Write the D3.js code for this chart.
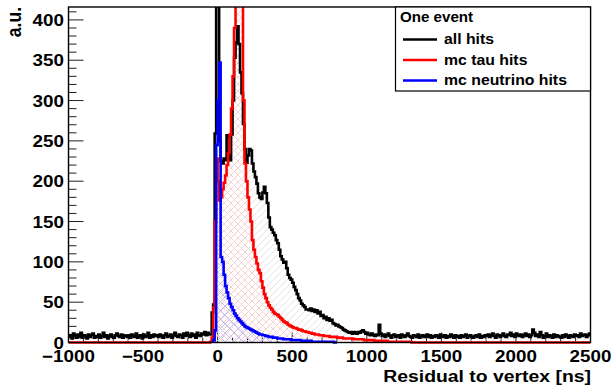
<!DOCTYPE html>
<html>
<head>
<meta charset="utf-8">
<script src="https://cdn.jsdelivr.net/npm/d3@7"></script>
<style>
    body { margin: 0; background: #fff; }
    svg { display: block; font-family: "Liberation Sans", Arial, sans-serif; font-weight: bold; }
</style>
</head>
<body>
<svg id="chart"></svg>
<script>
// histogram binning (ns)
const xMin = -1000, xMax = 2500, binWidth = 10;
const yMax = 416;

// all hits, bins -1000 .. -10
const allHitsBefore = [
    7, 9, 5, 11, 8, 6, 10, 7, 12, 6, 9, 8, 5, 10, 7, 9, 11, 6, 8, 7,
    10, 6, 8, 12, 7, 9, 5, 8, 10, 7, 6, 9, 11, 8, 7, 10, 6, 9, 8, 7,
    9, 6, 10, 8, 7, 11, 6, 8, 9, 5, 10, 7, 8, 12, 6, 9, 7, 10, 8, 9,
    7, 10, 8, 6, 9, 11, 7, 8, 10, 6, 9, 12, 8, 7, 10, 9, 6, 11, 8, 12,
    9, 7, 11, 8, 10, 6, 12, 9, 8, 11, 10, 13, 9, 12, 10, 10, 37, 47, 259, 480
];
// all hits, bins 0 .. 1090
const allHitsPeak = [
    470, 250, 225, 222, 228, 226, 257, 255, 226, 258,
    300, 353, 372, 392, 370, 335, 309, 271, 240, 223,
    232, 240, 238, 222, 212, 205, 197, 185, 180, 178,
    186, 193, 185, 173, 155, 143, 140, 136, 133, 127,
    123, 115, 107, 103, 99, 100, 92, 84, 80, 78,
    74, 69, 65, 60, 55, 52, 48, 46, 44, 41,
    41, 40, 42, 39, 41, 38, 40, 36, 38, 33,
    34, 30, 32, 28, 30, 27, 28, 24, 23, 21,
    22, 20, 19, 18, 16, 15, 14, 13, 12, 13,
    11, 13, 12, 11, 13, 12, 14, 15, 13, 11,
    12, 10, 9, 11, 9, 8, 10, 9, 22, 11
];
// all hits, bins 1100 .. 2490
const allHitsAfter = [
    8, 10, 7, 9, 11, 8, 6, 9, 10, 7, 8, 9, 6, 10, 8, 7, 9, 11, 8, 7,
    6, 9, 8, 7, 10, 6, 8, 9, 7, 8, 10, 7, 9, 6, 8, 7, 9, 8, 6, 10,
    8, 7, 9, 6, 8, 7, 10, 8, 6, 9, 7, 8, 6, 9, 7, 8, 10, 6, 8, 9,
    7, 6, 8, 9, 7, 10, 6, 8, 7, 9, 8, 10, 7, 9, 11, 8, 6, 10, 9, 7,
    9, 11, 8, 7, 10, 9, 12, 8, 10, 7, 11, 9, 8, 10, 7, 9, 11, 8, 10, 7,
    9, 16, 12, 8, 10, 7, 13, 9, 6, 8, 11, 7, 9, 8, 6, 10, 7, 9, 8, 7,
    6, 9, 7, 10, 8, 6, 9, 8, 7, 10, 8, 9, 7, 11, 8, 9, 10, 7, 9, 11
];

// mc tau hits, first bin at -60 ns, zero elsewhere
const tauStart = -60;
const tauHits = [
    0, 1, 6, 43, 150, 228,
    200, 176, 180, 190, 198, 207, 220, 235, 258, 290,
    330, 390, 470, 560, 600, 540, 450, 300, 222, 200,
    180, 165, 150, 127, 115, 106, 98, 90, 86, 76,
    68, 60, 55, 50, 46, 43, 41, 38, 36, 35,
    34, 32, 30, 28, 26, 25, 24, 22, 21, 20,
    19, 18, 18, 17, 16, 16, 15, 14, 14, 13,
    13, 12, 12, 11, 11, 10, 10, 10, 9, 9,
    9, 8, 8, 8, 8, 7, 7, 7, 7, 7,
    6, 6, 6, 6, 5, 5, 5, 5, 5, 5,
    5, 4, 4, 4, 4, 4, 4, 4, 3, 3,
    3, 3, 3, 3, 3, 2, 2, 2, 2, 2,
    2, 2, 2, 2, 1, 1, 1, 1, 1, 1,
    1, 1, 1, 1, 1, 1, 1, 1, 1, 1
];

// mc neutrino hits, first bin at -40 ns
const nuStart = -40;
const nuHits = [
    1, 3, 15, 245,
    300, 347, 106, 100, 84, 70, 62, 55, 48, 44,
    40, 36, 33, 30, 28, 26, 24, 22, 20, 19,
    18, 17, 16, 15, 14, 13, 12, 11, 10, 10,
    9, 9, 8, 8, 7, 7, 7, 6, 6, 6,
    5, 5, 5, 5, 4, 4, 4, 4, 4, 3,
    3, 3, 3, 3, 3, 3, 2, 2, 2, 2,
    2, 2, 2, 1, 1, 1, 1, 1, 1, 1,
    1, 1, 1, 1, 1, 1, 1, 1, 0, 0
];

const xTicks = [-1000, -500, 0, 500, 1000, 1500, 2000, 2500];
const yTicks = [0, 50, 100, 150, 200, 250, 300, 350, 400];
const legendHeader = "One event";
const legendEntries = ["all hits", "mc tau hits", "mc neutrino hits"];

const width = 615, height = 386;
const frame = { left: 68.5, right: 590.5, top: 7, bottom: 342.5 };
const stretch = 1.14; // text in the picture is a bit wide

const svg = d3.select('#chart')
    .attr('width', width)
    .attr('height', height);

const xscale = d3.scaleLinear().domain([xMin, xMax]).range([frame.left, frame.right]);
const yscale = d3.scaleLinear().domain([0, yMax]).range([frame.bottom, frame.top]);

// pad a partial histogram with zero bins so it spans the full axis
const nBins = (xMax - xMin) / binWidth;
function padBins(values, start) {
    const out = new Array(nBins).fill(0);
    const offset = (start - xMin) / binWidth;
    values.forEach((v, i) => { out[offset + i] = v; });
    return out;
}

function histPoints(values, start) {
    const pts = values.map((v, i) => [start + i * binWidth, v]);
    pts.push([start + values.length * binWidth, values[values.length - 1]]);
    return pts;
}

const line = d3.line()
    .x(d => xscale(d[0]))
    .y(d => yscale(d[1]))
    .curve(d3.curveStepAfter);
const area = d3.area()
    .x(d => xscale(d[0]))
    .y0(yscale(0))
    .y1(d => yscale(d[1]))
    .curve(d3.curveStepAfter);

// hatch patterns
const defs = svg.append('defs');
function hatch(id, size, color, cross) {
    const p = defs.append('pattern')
        .attr('id', id)
        .attr('patternUnits', 'userSpaceOnUse')
        .attr('width', size)
        .attr('height', size);
    let d = `M-1,1 L1,-1 M0,${size} L${size},0 M${size - 1},${size + 1} L${size + 1},${size - 1}`;
    if (cross) d += ` M0,0 L${size},${size} M-1,${size - 1} L1,${size + 1} M${size - 1},-1 L${size + 1},1`;
    p.append('path')
        .attr('d', d)
        .attr('stroke', color)
        .attr('stroke-width', 0.8)
        .attr('fill', 'none');
}
hatch('hatch-all', 7, '#dcdcdc', false);
hatch('hatch-tau', 7, '#f8cccc', true);
hatch('hatch-nu', 9, '#b4b4f4', true);

defs.append('clipPath').attr('id', 'frame-clip')
    .append('rect')
    .attr('x', frame.left)
    .attr('y', frame.top)
    .attr('width', frame.right - frame.left)
    .attr('height', frame.bottom - frame.top + 2);

// axes
const axes = svg.append('g');
const xMinor = d3.range(xMin, xMax + 1, 100);
const yMinor = d3.range(0, yMax, 10);

axes.selectAll('.xtick')
    .data(xMinor)
    .join('line')
    .attr('x1', d => xscale(d)).attr('x2', d => xscale(d))
    .attr('y1', frame.bottom)
    .attr('y2', d => frame.bottom - (d % 500 === 0 ? 10 : 5))
    .attr('stroke', '#222').attr('stroke-width', 1);

axes.selectAll('.ytick')
    .data(yMinor)
    .join('line')
    .attr('x1', frame.left)
    .attr('x2', d => frame.left + (d % 50 === 0 ? 15 : 8))
    .attr('y1', d => yscale(d)).attr('y2', d => yscale(d))
    .attr('stroke', '#222').attr('stroke-width', 1);

axes.selectAll('.xlabel')
    .data(xTicks)
    .join('text')
    .attr('transform', d => `translate(${xscale(d)}, 362) scale(${stretch}, 1)`)
    .attr('text-anchor', 'middle')
    .attr('font-size', 16.5)
    .text(d => d < 0 ? '\u2212' + Math.abs(d) : d);

axes.selectAll('.ylabel')
    .data(yTicks)
    .join('text')
    .attr('transform', d => `translate(64, ${yscale(d) + 6}) scale(${stretch}, 1)`)
    .attr('text-anchor', 'end')
    .attr('font-size', 16.5)
    .text(d => d);

axes.append('text')
    .attr('transform', `translate(591, 381.5) scale(${stretch}, 1)`)
    .attr('text-anchor', 'end')
    .attr('font-size', 17)
    .text('Residual to vertex [ns]');

axes.append('text')
    .attr('transform', `translate(20.5, 7) scale(${stretch}, 1) rotate(-90)`)
    .attr('text-anchor', 'end')
    .attr('font-size', 17.5)
    .text('a.u.');

// histograms
const plot = svg.append('g').attr('clip-path', 'url(#frame-clip)');
const allHits = allHitsBefore.concat(allHitsPeak, allHitsAfter);
const series = [
    { values: allHits, start: xMin, color: '#000000', fill: 'url(#hatch-all)' },
    { values: padBins(tauHits, tauStart), start: xMin, color: '#ff0000', fill: 'url(#hatch-tau)' },
    { values: nuHits, start: nuStart, color: '#0000ff', fill: 'url(#hatch-nu)' }
];

series.forEach(s => {
    const pts = histPoints(s.values, s.start);
    plot.append('path')
        .attr('d', area(pts))
        .attr('fill', s.fill)
        .attr('stroke', 'none');
});
series.forEach(s => {
    const pts = histPoints(s.values, s.start);
    plot.append('path')
        .attr('d', line(pts))
        .attr('fill', 'none')
        .attr('stroke', s.color)
        .attr('stroke-width', 2.6);
});

// frame
svg.append('rect')
    .attr('x', frame.left)
    .attr('y', frame.top)
    .attr('width', frame.right - frame.left)
    .attr('height', frame.bottom - frame.top)
    .attr('fill', 'none')
    .attr('stroke', '#000')
    .attr('stroke-width', 1.4);

// legend
const legend = svg.append('g');
legend.append('rect')
    .attr('x', 395.5).attr('y', 7)
    .attr('width', 195).attr('height', 84)
    .attr('fill', '#fff')
    .attr('stroke', '#000')
    .attr('stroke-width', 1.2);

legend.append('text')
    .attr('transform', `translate(400, 21.5) scale(1.08, 1)`)
    .attr('font-size', 14)
    .text(legendHeader);

const legendColors = ['#000000', '#ff0000', '#0000ff'];
const legendY = [39.5, 60, 80.5];
legendEntries.forEach((name, i) => {
    legend.append('line')
        .attr('x1', 403).attr('x2', 437)
        .attr('y1', legendY[i]).attr('y2', legendY[i])
        .attr('stroke', legendColors[i])
        .attr('stroke-width', 2.4);
    legend.append('text')
        .attr('transform', `translate(444, ${legendY[i] + 4.8}) scale(1.13, 1)`)
        .attr('font-size', 14)
        .text(name);
});
</script>
</body>
</html>
